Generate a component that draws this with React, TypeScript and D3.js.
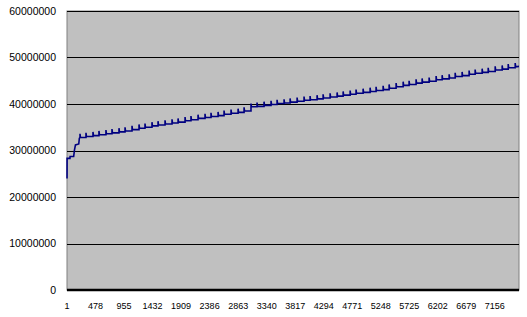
import React from "react";
import * as d3 from "d3";

const N = 7560;
const yTicks = [0, 10000000, 20000000, 30000000, 40000000, 50000000, 60000000];
const xTickLabels = [1, 478, 955, 1432, 1909, 2386, 2863, 3340, 3817, 4294, 4771, 5248, 5725, 6202, 6679, 7156];

// opening segment vertices (index, value in millions)
const startIdx = [1, 2, 50, 52, 112, 125, 142, 197, 207, 218];
const startVal = [24.0, 28.3, 28.3, 28.7, 28.7, 30.1, 31.2, 31.4, 32.6, 32.8];

// sawtooth steps: spike index, spike top, level after spike (millions)
const spikeIdx = [218,318,435,535,652,753,870,971,1088,1205,1305,1422,1523,1640,1757,1858,1975,2074,2192,2309,2409,2527,2627,2744,2862,2962,3078,3179,3296,3413,3514,3631,3732,3849,3965,4066,4183,4284,4401,4518,4619,4736,4835,4953,5070,5170,5288,5388,5505,5623,5722,5839,5940,6057,6174,6275,6392,6493,6609,6726,6827,6944,7045,7162,7279,7380,7497];
const spikeTop = [33.6,33.8,34.0,34.2,34.4,34.6,34.8,35.0,35.3,35.6,35.8,36.1,36.3,36.5,36.7,36.9,37.2,37.4,37.7,37.9,38.1,38.3,38.6,38.8,39.0,39.3,40.1,40.3,40.5,40.7,40.9,41.0,41.2,41.4,41.6,41.7,41.9,42.1,42.3,42.5,42.7,42.9,43.1,43.3,43.5,43.7,43.9,44.2,44.5,44.8,45.0,45.3,45.5,45.7,46.0,46.2,46.4,46.7,46.9,47.2,47.4,47.6,47.8,48.1,48.3,48.6,48.8];
const stepLevel = [32.8,33.0,33.2,33.4,33.6,33.8,34.0,34.2,34.5,34.8,35.0,35.3,35.5,35.7,35.9,36.1,36.4,36.6,36.9,37.1,37.3,37.5,37.8,38.0,38.2,38.5,39.4,39.5,39.7,39.9,40.1,40.2,40.4,40.6,40.8,40.9,41.1,41.3,41.5,41.7,41.9,42.1,42.3,42.5,42.7,42.9,43.1,43.4,43.7,44.0,44.2,44.5,44.7,44.9,45.2,45.4,45.6,45.9,46.1,46.4,46.6,46.8,47.0,47.3,47.5,47.8,48.0];
const endIdx = 7560;
const endVal = 48.1;

const W = 527, H = 317;
const L = 67, R = 519, T = 11, B = 290;

export default function App() {
  const x = d3.scaleLinear().domain([0.5, N + 0.5]).range([L, R]);
  const y = d3.scaleLinear().domain([0, 60000000]).range([B, T]);

  const pts: [number, number][] = [];
  startIdx.forEach((d, i) => pts.push([d, startVal[i]]));
  let prev = startVal[startVal.length - 1];
  spikeIdx.forEach((d, i) => {
    pts.push([d, prev]);
    pts.push([d, spikeTop[i]]);
    pts.push([d + 8, stepLevel[i]]);
    prev = stepLevel[i];
  });
  pts.push([endIdx, endVal]);

  const line = d3
    .line<[number, number]>()
    .x((d) => x(d[0]))
    .y((d) => y(d[1] * 1e6));

  const font = "'Liberation Sans', Arial, sans-serif";

  return (
    <svg width={W} height={H} style={{ position: "absolute", left: 0, top: 0 }}>
      <rect x={0} y={0} width={W} height={H} fill="#ffffff" />
      <rect x={L} y={T} width={R - L} height={B - T} fill="#c0c0c0" stroke="#808080" strokeWidth={1} />
      {yTicks.slice(1).map((t) => (
        <line key={t} x1={L} x2={R} y1={Math.round(y(t)) + 0.5} y2={Math.round(y(t)) + 0.5} stroke="#000000" strokeWidth={1} />
      ))}
      <path d={line(pts) || ""} fill="none" stroke="#000080" strokeWidth={1.6} strokeLinejoin="miter" />
      <line x1={L} x2={R} y1={B} y2={B} stroke="#000000" strokeWidth={2.5} />
      {yTicks.map((t) => (
        <text key={t} x={56} y={y(t)} dy="0.35em" textAnchor="end" fontFamily={font} fontSize={10.5} fill="#000">
          {d3.format("d")(t)}
        </text>
      ))}
      {xTickLabels.map((t) => (
        <text key={t} x={x(t)} y={309} textAnchor="middle" fontFamily={font} fontSize={9} fill="#000">
          {t}
        </text>
      ))}
    </svg>
  );
}
